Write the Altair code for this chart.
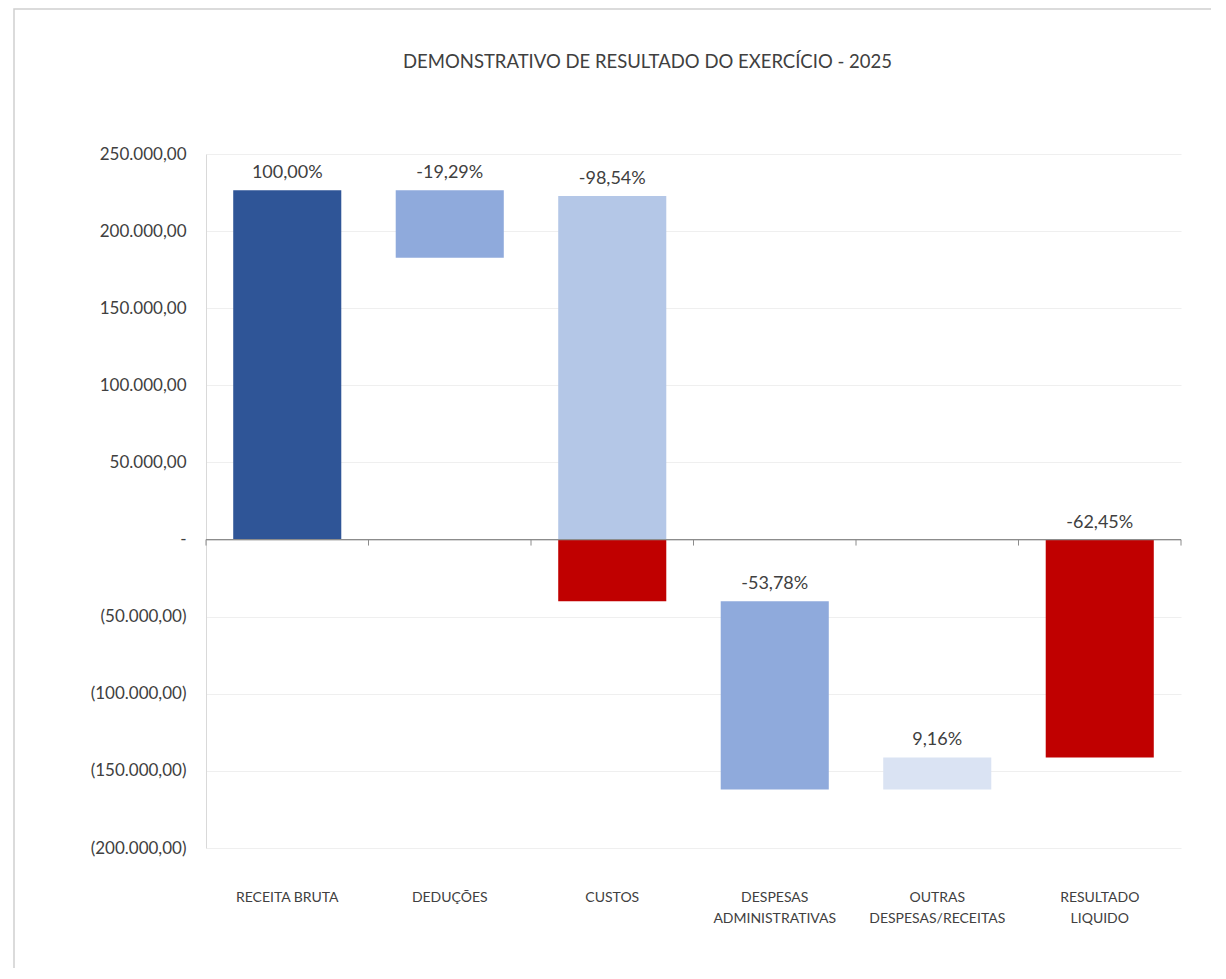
import altair as alt
import pandas as pd

categories = ["RECEITA BRUTA", "DEDUÇÕES", "CUSTOS", "DESPESAS ADMINISTRATIVAS",
              "OUTRAS DESPESAS/RECEITAS", "RESULTADO LIQUIDO"]
pct_labels = ["100,00%", "-19,29%", "-98,54%", "-53,78%", "9,16%", "-62,45%"]

# bar segments (floating waterfall pieces)
seg_cat = ["RECEITA BRUTA", "DEDUÇÕES", "CUSTOS", "CUSTOS",
           "DESPESAS ADMINISTRATIVAS", "OUTRAS DESPESAS/RECEITAS", "RESULTADO LIQUIDO"]
seg_start = [0, 226500, 0, 0, -40000, -162000, 0]
seg_end = [226500, 182800, 222800, -40000, -162000, -141300, -141300]
seg_color = ["#2F5597", "#8FAADC", "#B4C7E7", "#C00000", "#8FAADC", "#DAE3F3", "#C00000"]

y_ticks = [-200000, -150000, -100000, -50000, 0, 50000, 100000, 150000, 200000, 250000]

FONT = "Lato"
TXT = "#404040"

seg_df = pd.DataFrame({"cat": seg_cat, "start": seg_start, "end": seg_end, "color": seg_color})
seg_df["top"] = seg_df[["start", "end"]].max(axis=1)
tops = seg_df.groupby("cat")["top"].max()
lab_df = pd.DataFrame({"cat": categories, "label": pct_labels})
lab_df["top"] = lab_df["cat"].map(tops)

tick_df = pd.DataFrame({"cat": categories})
last_df = pd.DataFrame({"cat": [categories[-1]]})

x_scale = alt.Scale(domain=categories, paddingInner=0, paddingOuter=0)
y_scale = alt.Scale(domain=[-200000, 250000], nice=False)

label_expr_y = ("datum.value == 0 ? '-' : (datum.value < 0 ? '(' : '') + "
                "replace(replace(replace(format(abs(datum.value), ',.2f'), ',', '#'), '.', ','), '#', '.')"
                " + (datum.value < 0 ? ')' : '')")

bars = alt.Chart(seg_df).mark_bar(width=alt.RelativeBandSize(0.665)).encode(
    x=alt.X("cat:N", scale=x_scale, sort=categories, title=None,
            axis=alt.Axis(labelAngle=0, domain=False, ticks=False, grid=False, labelPadding=42,
                          labelFont=FONT, labelFontSize=14, labelColor=TXT, labelLineHeight=21,
                          labelExpr="datum.value == 'RECEITA BRUTA' ? datum.value : split(datum.value, ' ')")),
    y=alt.Y("start:Q", scale=y_scale, title=None,
            axis=alt.Axis(values=y_ticks, labelExpr=label_expr_y, ticks=False, labelPadding=20,
                          labelFont=FONT, labelFontSize=17, labelColor=TXT,
                          gridColor="#efefef", domainColor="#d9d9d9")),
    y2="end:Q",
    color=alt.Color("color:N", scale=None),
)

labels = alt.Chart(lab_df).mark_text(baseline="bottom", dy=-8, font=FONT, fontSize=18, color=TXT).encode(
    x=alt.X("cat:N", scale=x_scale, sort=categories),
    y=alt.Y("top:Q", scale=y_scale),
    text="label:N",
)

zero_line = alt.Chart(pd.DataFrame({"v": [0]})).mark_rule(color="#8c8c8c", strokeWidth=1.2).encode(
    y=alt.Y("v:Q", scale=y_scale)
)

ticks_start = alt.Chart(tick_df).mark_rule(color="#8c8c8c", y2Offset=6).encode(
    x=alt.X("cat:N", scale=x_scale, sort=categories, bandPosition=0),
    y=alt.datum(0, scale=y_scale), y2=alt.datum(0),
)
ticks_end = alt.Chart(last_df).mark_rule(color="#8c8c8c", y2Offset=6).encode(
    x=alt.X("cat:N", scale=x_scale, sort=categories, bandPosition=1),
    y=alt.datum(0, scale=y_scale), y2=alt.datum(0),
)

border = alt.Chart(pd.DataFrame({"d": [0]})).mark_rect(fill=None, stroke="#d0d0d0", strokeWidth=1.5).encode(
    x=alt.value(-192), x2=alt.value(1100), y=alt.value(-145), y2=alt.value(900)
)

chart = alt.layer(border, bars, zero_line, ticks_start, ticks_end, labels).properties(
    width=975,
    height=694,
    autosize=alt.AutoSizeParams(type="none"),
    padding={"left": 198, "top": 146, "right": 30, "bottom": 120},
    background="white",
    title=alt.TitleParams("DEMONSTRATIVO DE RESULTADO DO EXERCÍCIO - 2025", anchor="middle",
                          dx=-46, offset=-78, baseline="alphabetic", font=FONT, fontSize=18.5,
                          fontWeight="normal", color=TXT),
).configure_view(stroke=None, strokeWidth=0)

chart.save("out.html", embed_options={"renderer": "svg", "actions": False})
